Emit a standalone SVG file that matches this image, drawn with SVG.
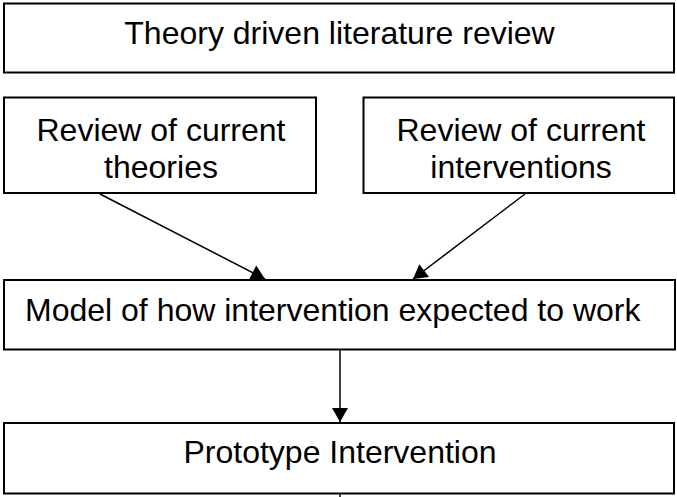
<svg xmlns="http://www.w3.org/2000/svg" width="677" height="497" viewBox="0 0 677 497">
  <style>
    .box { fill: #ffffff; stroke: #000000; stroke-width: 2; }
    .lbl { font-family: "Liberation Sans", Arial, sans-serif; font-size: 32px; fill: #000000; }
    .mid { text-anchor: middle; }
    .conn { stroke: #000000; stroke-width: 1.5; fill: none; marker-end: url(#arrow); }
  </style>
  <defs>
    <marker id="arrow" markerUnits="userSpaceOnUse" markerWidth="16" markerHeight="16" viewBox="0 0 14 16" refX="14" refY="8" orient="auto">
      <path d="M0,0 L14,8 L0,16 Z" fill="#000000"/>
    </marker>
  </defs>
  <rect width="677" height="497" fill="#ffffff"/>
  <g id="node-theory-review">
    <rect class="box" x="4" y="3.5" width="670" height="69"/>
    <text class="lbl mid" x="339.5" y="43.5">Theory driven literature review</text>
  </g>
  <g id="node-current-theories">
    <rect class="box" x="4" y="97.5" width="312" height="95.5"/>
    <text class="lbl mid" x="161" y="141">Review of current</text>
    <text class="lbl mid" x="161" y="177.5">theories</text>
  </g>
  <g id="node-current-interventions">
    <rect class="box" x="363.5" y="97.5" width="310.5" height="95.5"/>
    <text class="lbl mid" x="521" y="141">Review of current</text>
    <text class="lbl mid" x="521" y="177.5">interventions</text>
  </g>
  <g id="node-model">
    <rect class="box" x="4" y="280" width="671" height="69.5"/>
    <text class="lbl" x="25" y="321">Model of how intervention expected to work</text>
  </g>
  <g id="node-prototype">
    <rect class="box" x="4" y="423" width="670" height="70.5"/>
    <text class="lbl mid" x="340" y="463">Prototype Intervention</text>
  </g>
  <g id="connectors">
    <line class="conn" x1="100" y1="194" x2="265" y2="279"/>
    <line class="conn" x1="525" y1="194" x2="413" y2="279"/>
    <line class="conn" x1="340" y1="350.5" x2="340" y2="422"/>
    <line x1="340" y1="494.5" x2="340" y2="497" stroke="#000000" stroke-width="1.5"/>
  </g>
</svg>
